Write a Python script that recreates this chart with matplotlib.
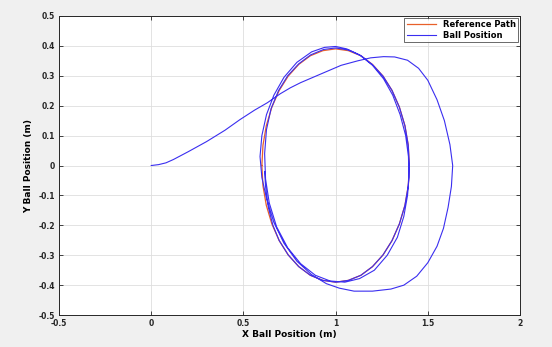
import matplotlib.pyplot as plt

# Reference path (ellipse around (1, 0))
ref_x = [0.6, 0.606, 0.624, 0.654, 0.694, 0.743, 0.8, 0.863, 0.931, 1.0,
         1.069, 1.137, 1.2, 1.257, 1.306, 1.346, 1.376, 1.394, 1.4,
         1.394, 1.376, 1.346, 1.306, 1.257, 1.2, 1.137, 1.069, 1.0,
         0.931, 0.863, 0.8, 0.743, 0.694, 0.654, 0.624, 0.606, 0.6]
ref_y = [0.0, 0.068, 0.133, 0.195, 0.251, 0.299, 0.338, 0.367, 0.384, 0.39,
         0.384, 0.367, 0.338, 0.299, 0.251, 0.195, 0.133, 0.068, 0.0,
         -0.068, -0.133, -0.195, -0.251, -0.299, -0.338, -0.367, -0.384, -0.39,
         -0.384, -0.367, -0.338, -0.299, -0.251, -0.195, -0.133, -0.068, 0.0]

# Ball position
ball_x = [0.0, 0.04, 0.08, 0.12, 0.2, 0.3, 0.4, 0.48, 0.56, 0.63, 0.7, 0.755, 0.81,
          0.935, 1.03, 1.12, 1.19, 1.26, 1.32, 1.39, 1.45, 1.5, 1.55, 1.59,
          1.62, 1.635, 1.628, 1.61, 1.585, 1.55, 1.5, 1.44, 1.37, 1.3, 1.2,
          1.1, 1.02, 0.95, 0.87, 0.79, 0.72, 0.665, 0.625, 0.6, 0.59, 0.6,
          0.625, 0.665, 0.72, 0.79, 0.87, 0.94, 1.0, 1.06, 1.13,
          1.2, 1.26, 1.31, 1.35, 1.38, 1.395, 1.398, 1.39, 1.37, 1.335, 1.28,
          1.21, 1.13, 1.05, 0.97, 0.89, 0.81, 0.74, 0.68, 0.64, 0.62, 0.615,
          0.625, 0.65, 0.69, 0.74, 0.8, 0.865, 0.935, 1.0, 1.07, 1.14, 1.2,
          1.257, 1.306, 1.346, 1.376, 1.394, 1.4, 1.394, 1.376, 1.346, 1.306,
          1.257, 1.2, 1.137, 1.069, 1.0, 0.931, 0.863, 0.8, 0.743, 0.694, 0.66,
          0.635, 0.62, 0.615]
ball_y = [0.0, 0.003, 0.009, 0.02, 0.046, 0.08, 0.118, 0.153, 0.185, 0.21, 0.24,
          0.26, 0.277, 0.31, 0.335, 0.35, 0.36, 0.364, 0.363, 0.352, 0.325,
          0.285, 0.22, 0.15, 0.07, 0.0, -0.07, -0.14, -0.21, -0.27, -0.325,
          -0.37, -0.4, -0.413, -0.42, -0.42, -0.41, -0.395, -0.365, -0.32,
          -0.26, -0.19, -0.11, -0.04, 0.03, 0.1, 0.17, 0.235, 0.295, 0.345,
          0.38, 0.395, 0.398, 0.39, 0.37, 0.335, 0.29,
          0.235, 0.17, 0.1, 0.03, -0.04, -0.1, -0.17, -0.24, -0.3, -0.35,
          -0.378, -0.39, -0.386, -0.367, -0.328, -0.275, -0.205, -0.125,
          -0.045, 0.04, 0.12, 0.19, 0.25, 0.3, 0.34, 0.37, 0.388, 0.393, 0.386,
          0.366, 0.337, 0.299, 0.251, 0.195, 0.133, 0.068, 0.0, -0.068, -0.133,
          -0.195, -0.251, -0.299, -0.338, -0.367, -0.384, -0.39, -0.384, -0.367,
          -0.338, -0.299, -0.251, -0.2, -0.14, -0.07, -0.02]

x_ticks = [-0.5, 0, 0.5, 1, 1.5, 2]
x_labels = ['-0.5', '0', '0.5', '1', '1.5', '2']
y_ticks = [-0.5, -0.4, -0.3, -0.2, -0.1, 0, 0.1, 0.2, 0.3, 0.4, 0.5]
y_labels = ['-0.5', '-0.4', '-0.3', '-0.2', '-0.1', '0', '0.1', '0.2', '0.3', '0.4', '0.5']

fig = plt.figure(figsize=(5.52, 3.47), dpi=100, facecolor='#f0f0f0')
ax = fig.add_axes([0.107, 0.092, 0.835, 0.862])
ax.set_facecolor('white')

ax.plot(ref_x, ref_y, color='#e8602a', lw=0.9, label='Reference Path')
ax.plot(ball_x, ball_y, color='#3a2ef0', lw=0.8, label='Ball Position')

ax.set_xlim(-0.5, 2)
ax.set_ylim(-0.5, 0.5)
ax.set_xticks(x_ticks)
ax.set_xticklabels(x_labels)
ax.set_yticks(y_ticks)
ax.set_yticklabels(y_labels)
ax.grid(True, color='#dedede', lw=0.6)
ax.tick_params(direction='in', length=3, width=0.6, labelsize=5.5,
               top=True, right=True, colors='#262626', pad=3)
for lab in ax.get_xticklabels() + ax.get_yticklabels():
    lab.set_fontweight('bold')
for s in ax.spines.values():
    s.set_color('#262626')
    s.set_linewidth(0.7)

ax.set_xlabel('X Ball Position (m)', fontsize=6.5, fontweight='bold', labelpad=1)
ax.set_ylabel('Y Ball Position (m)', fontsize=6.5, fontweight='bold', labelpad=4)

leg = ax.legend(loc='upper right', prop={'weight': 'bold', 'size': 6},
                frameon=True, fancybox=False, edgecolor='#262626',
                borderaxespad=0.2, handlelength=3.5, borderpad=0.3, labelspacing=0.2)
leg.get_frame().set_linewidth(0.6)

fig.savefig('out.png', dpi=100, facecolor=fig.get_facecolor())
